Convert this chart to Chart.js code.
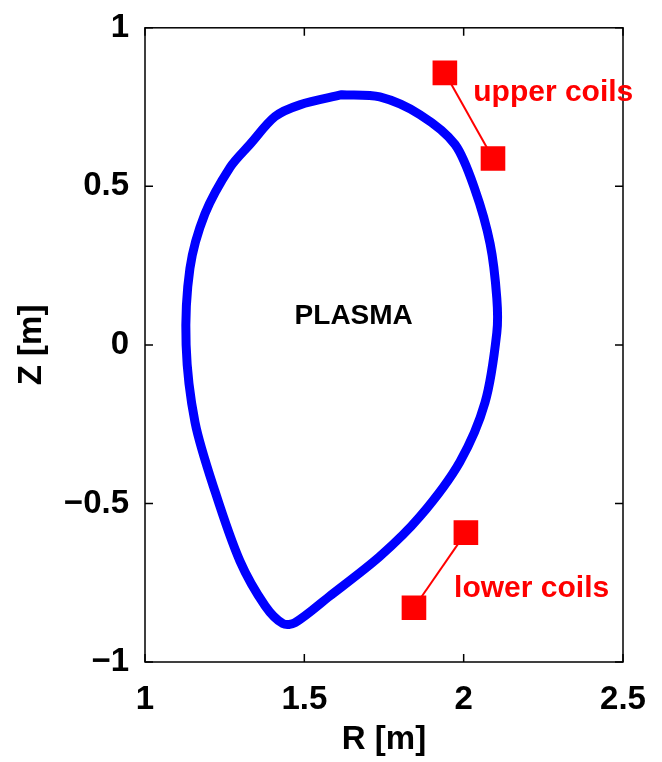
<!DOCTYPE html>
<html>
<head>
<script src="https://cdn.jsdelivr.net/npm/chart.js@4"></script>
<style>body{margin:0;background:#fff}</style>
</head>
<body>
<canvas id="c" width="662" height="762"></canvas>
<script>
// plasma boundary (R, Z)
const plasmaR = [1.618,1.486,1.408,1.329,1.267,1.188,1.141,1.129,1.157,1.220,1.298,1.377,1.433,1.471,1.580,1.737,1.863,1.988,2.067,2.104,2.104,2.083,2.035,1.973,1.863,1.737,1.618];
const plasmaZ = [0.789,0.757,0.720,0.632,0.560,0.413,0.241,0,-0.244,-0.463,-0.682,-0.823,-0.879,-0.876,-0.792,-0.667,-0.541,-0.369,-0.182,0.038,0.147,0.319,0.491,0.632,0.726,0.782,0.789];
const upperR = [1.941, 2.092];
const upperZ = [0.858, 0.588];
const lowerR = [2.007, 1.844];
const lowerZ = [-0.592, -0.829];
const xTicks = [1, 1.5, 2, 2.5];
const yTicks = [-1, -0.5, 0, 0.5, 1];

const pts = (xs, ys) => xs.map((x, i) => ({x: x, y: ys[i]}));
const FONT = 'Liberation Sans, Arial, sans-serif';

const decor = {
  id: 'decor',
  afterDraw(chart) {
    const {ctx, chartArea: a, scales: {x, y}} = chart;
    ctx.save();
    ctx.strokeStyle = '#000';
    ctx.lineWidth = 1.5;
    ctx.strokeRect(a.left, a.top, a.right - a.left, a.bottom - a.top);
    ctx.beginPath();
    xTicks.forEach(v => {
      const px = x.getPixelForValue(v);
      ctx.moveTo(px, a.bottom); ctx.lineTo(px, a.bottom - 8);
      ctx.moveTo(px, a.top); ctx.lineTo(px, a.top + 8);
    });
    yTicks.forEach(v => {
      const py = y.getPixelForValue(v);
      ctx.moveTo(a.left, py); ctx.lineTo(a.left + 8, py);
      ctx.moveTo(a.right, py); ctx.lineTo(a.right - 8, py);
    });
    ctx.stroke();

    ctx.fillStyle = '#000';
    ctx.textAlign = 'center';
    ctx.textBaseline = 'middle';
    ctx.font = 'bold 28px ' + FONT;
    ctx.fillText('PLASMA', x.getPixelForValue(1.655), y.getPixelForValue(0.09));
    ctx.font = 'bold 33px ' + FONT;
    ctx.fillText('R [m]', (a.left + a.right) / 2, 740);
    ctx.save();
    ctx.translate(32, (a.top + a.bottom) / 2);
    ctx.rotate(-Math.PI / 2);
    ctx.fillText('Z [m]', 0, 0);
    ctx.restore();

    ctx.fillStyle = '#f00';
    ctx.textAlign = 'left';
    ctx.font = 'bold 30px ' + FONT;
    ctx.fillText('upper coils', x.getPixelForValue(2.03), y.getPixelForValue(0.795));
    ctx.fillText('lower coils', x.getPixelForValue(1.97), y.getPixelForValue(-0.77));
    ctx.restore();
  }
};

new Chart(document.getElementById('c'), {
  type: 'scatter',
  data: {
    datasets: [
      {data: pts(plasmaR, plasmaZ), showLine: true, borderColor: '#0000ff', borderWidth: 9,
       pointRadius: 0, tension: 0.3, borderJoinStyle: 'round', borderCapStyle: 'round'},
      {data: pts(upperR, upperZ), showLine: true, borderColor: '#f00', borderWidth: 2,
       pointStyle: 'rect', pointRadius: 16, pointBackgroundColor: '#f00', pointBorderColor: '#f00'},
      {data: pts(lowerR, lowerZ), showLine: true, borderColor: '#f00', borderWidth: 2,
       pointStyle: 'rect', pointRadius: 16, pointBackgroundColor: '#f00', pointBorderColor: '#f00'}
    ]
  },
  options: {
    responsive: false,
    animation: false,
    layout: {padding: {left: 0, right: 39, top: 23, bottom: 0}},
    plugins: {legend: {display: false}, tooltip: {enabled: false}},
    scales: {
      x: {
        min: 1, max: 2.5,
        grid: {display: false}, border: {display: false},
        afterFit: s => { s.height = 100; },
        afterBuildTicks: s => { s.ticks = xTicks.map(v => ({value: v})); },
        ticks: {color: '#000', font: {family: FONT, size: 33, weight: 'bold'}, padding: 10, maxRotation: 0,
                callback: v => String(v)}
      },
      y: {
        min: -1, max: 1,
        grid: {display: false}, border: {display: false},
        afterFit: s => { s.width = 145; },
        afterBuildTicks: s => { s.ticks = yTicks.map(v => ({value: v})); },
        ticks: {color: '#000', font: {family: FONT, size: 33, weight: 'bold'}, padding: 8,
                callback: v => String(v).replace('-', '\u2212')}
      }
    }
  },
  plugins: [decor]
});
</script>
</body>
</html>
